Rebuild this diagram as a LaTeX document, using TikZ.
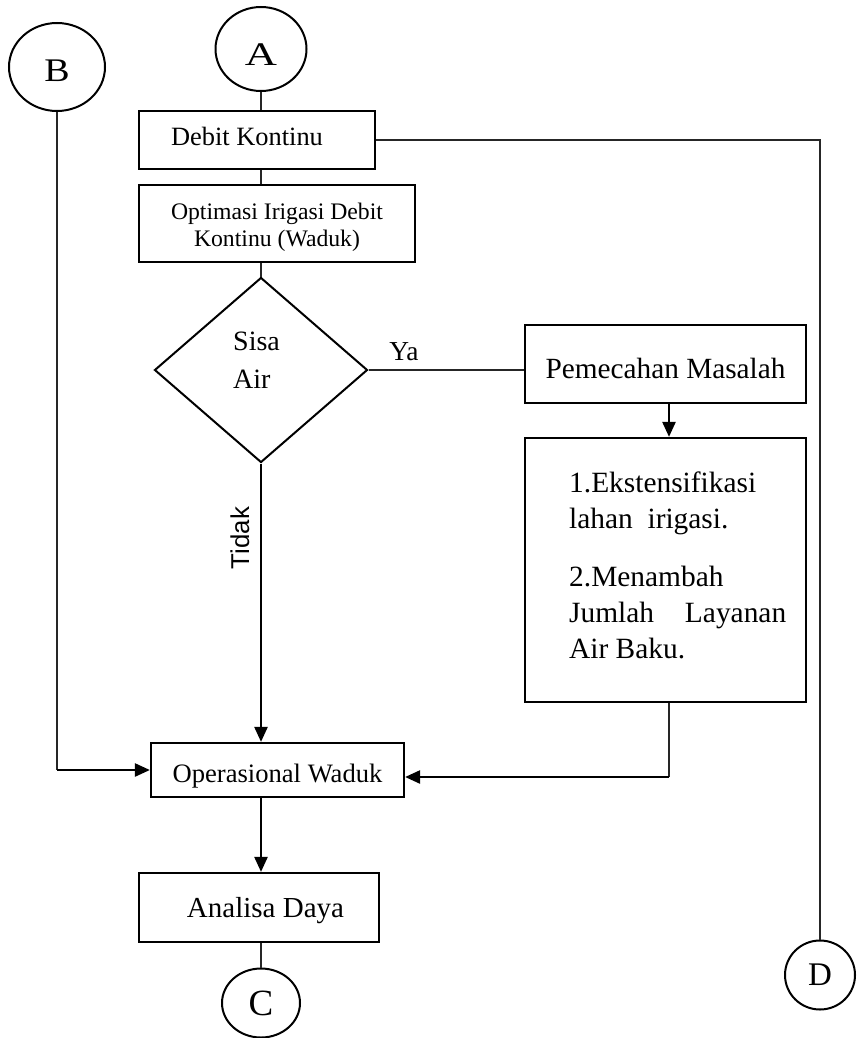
\documentclass[tikz,border=0pt]{standalone}
\usepackage{fontspec}
\usepackage{graphicx}
\setmainfont{Liberation Serif}
\newfontfamily\arialfont{Liberation Sans}
\usetikzlibrary{shapes.geometric,arrows.meta}
\newcommand\fs[2]{\fontsize{#1}{#2}\selectfont}
\begin{document}
\begin{tikzpicture}[x=1pt,y=-1pt,
  box/.style={draw,line width=2.2pt,inner sep=0pt},
  conn/.style={draw,ellipse,line width=2pt,inner sep=0pt},
  thinline/.style={line width=1.3pt,black!85},
  thickarrow/.style={line width=2.4pt,-{Triangle[length=15pt,width=13pt]}},
  lbl/.style={inner sep=0pt,anchor=base west}]
\useasboundingbox (0,0) rectangle (861,1038);
% connectors (circles)
\node[conn,minimum width=91pt,minimum height=84pt,font=\fs{33}{38},text height=34pt,text depth=0pt] (A) at (261,49) {\scalebox{1.35}[1]{A}};
\node[conn,minimum width=96pt,minimum height=88pt,font=\fs{33}{38},text height=30pt,text depth=0pt] (B) at (57,67) {\scalebox{1.15}[1]{B}};
\node[conn,minimum width=78pt,minimum height=69pt,font=\fs{37}{40}] (C) at (261,1003) {C};
\node[conn,minimum width=70pt,minimum height=69pt,font=\fs{33}{36}] (D) at (820,975) {D};
% boxes
\node[box,minimum width=236pt,minimum height=58pt,font=\fs{26.4}{30},text height=18pt,text depth=6pt] (debit) at (257,140) {Debit Kontinu\hspace*{20pt}};
\node[box,minimum width=276pt,minimum height=77pt,align=center,font=\fs{23.7}{27}] (opt) at (277,223.5) {\rule{0pt}{24pt}Optimasi Irigasi Debit\\Kontinu (Waduk)};
\node[draw,diamond,line width=2pt,minimum width=213pt,minimum height=185pt,inner sep=0pt] (dia) at (261,370) {};
\node[lbl,font=\fs{28}{32}] (sisa) at (233,350) {Sisa};
\node[lbl,font=\fs{28}{32}] (air) at (233,388) {Air};
\node[box,minimum width=281pt,minimum height=78pt,font=\fs{29.3}{34},text height=28pt,text depth=0pt] (pm) at (665.5,364) {Pemecahan Masalah};
\node[box,minimum width=281pt,minimum height=264pt] (l2) at (665.5,570) {};
\node[lbl,font=\fs{29.4}{34}] (t1) at (569,492) {1.Ekstensifikasi};
\node[lbl,font=\fs{29.4}{34}] (t2) at (569,528) {lahan\ \ irigasi.};
\node[lbl,font=\fs{29.4}{34}] (t3) at (569,586) {2.Menambah};
\node[lbl,font=\fs{29.4}{34}] (t4) at (569,622) {\makebox[217pt][s]{Jumlah Layanan}};
\node[lbl,font=\fs{29.4}{34}] (t5) at (569,658) {Air Baku.};
\node[box,minimum width=253pt,minimum height=54pt,font=\fs{26.6}{30},text height=24pt,text depth=0pt] (op) at (277.5,770) {Operasional Waduk};
\node[box,minimum width=240pt,minimum height=69pt,font=\fs{29}{33},text height=19pt,text depth=0pt] (ana) at (259,907.5) {\hspace*{13pt}Analisa Daya};
% labels
\node[inner sep=0pt,anchor=base,font=\fs{27.4}{31}] (ya) at (404,360) {Ya};
\node[inner sep=0pt,rotate=90,font=\arialfont\fs{25.8}{30}] (tidak) at (240,538) {Tidak};
% lines
\draw[thinline] (A.south) -- (A.south |- debit.north);
\draw[thinline] (debit.south -| A) -- (opt.north -| A);
\draw[thinline] (opt.south -| dia) -- (dia.north);
\draw[thinline] (dia.east) -- (dia.east -| pm.west);
\draw[thickarrow] ([xshift=3.5pt]pm.south) -- ([xshift=3.5pt]l2.north);
\draw[thickarrow] (dia.south) -- (dia.south |- op.north);
\draw[thinline] (B.south) -- (B.south |- op.west);
\draw[thickarrow] (B.south |- op.west) -- (op.west);
\path (l2.south) ++(3.5,0) coordinate (rjtop);
\path (op.east) ++(0,7) coordinate (opr);
\draw[thinline] (rjtop) -- (rjtop |- opr);
\draw[thickarrow] (rjtop |- opr) -- (opr);
\draw[thickarrow] (op.south -| dia) -- (ana.north -| dia);
\draw[thinline] (ana.south -| C) -- (C.north);
\draw[thinline] (debit.east) -| (D.north);
\end{tikzpicture}
\end{document}
